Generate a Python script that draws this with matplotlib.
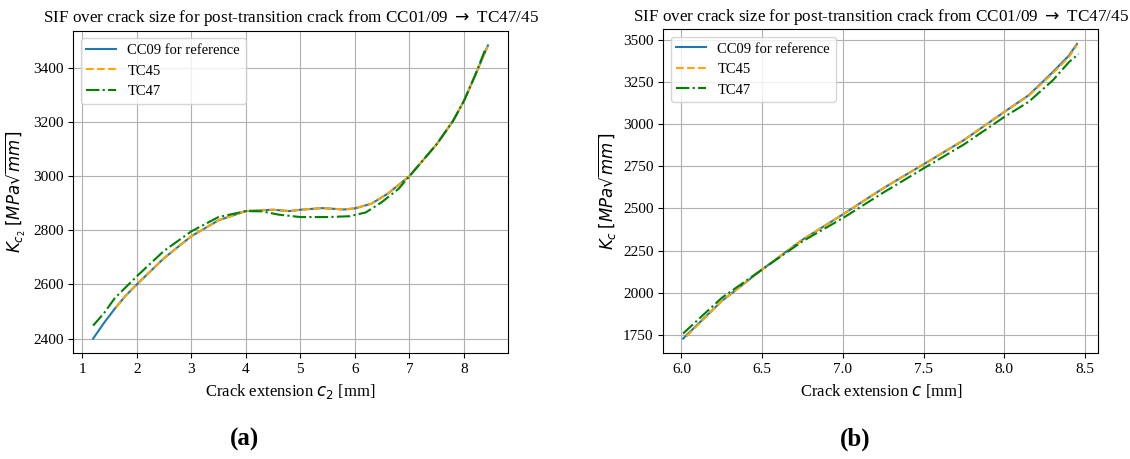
import matplotlib.pyplot as plt

plt.rcParams['font.family'] = ['Liberation Serif', 'DejaVu Serif']
plt.rcParams['mathtext.fontset'] = 'dejavusans'

# --- data (a): K_c2 over c2 ---
c2_cc09 = [1.2, 1.4, 1.6, 1.8, 2.0, 2.5, 3.0, 3.5, 4.0, 4.5, 4.8, 5.0, 5.4, 5.8, 6.0, 6.3, 6.6, 7.0, 7.5, 7.8, 8.0, 8.2, 8.44]
k_cc09 = [2400, 2458, 2511, 2559, 2600, 2697, 2778, 2837, 2871, 2876, 2871, 2876, 2882, 2877, 2881, 2898, 2935, 3000, 3118, 3204, 3278, 3370, 3483]

c2_tc45 = [1.62, 1.8, 2.0, 2.5, 3.0, 3.5, 4.0, 4.5, 4.8, 5.0, 5.4, 5.8, 6.0, 6.3, 6.6, 7.0, 7.5, 7.8, 8.0, 8.2, 8.43]
k_tc45 = [2515, 2559, 2600, 2697, 2778, 2837, 2871, 2876, 2871, 2876, 2882, 2877, 2881, 2898, 2935, 3000, 3118, 3204, 3278, 3370, 3478]

c2_tc47 = [1.2, 1.4, 1.6, 2.0, 2.5, 3.0, 3.5, 4.0, 4.3, 4.6, 5.0, 5.5, 5.9, 6.2, 6.5, 6.8, 7.0, 7.5, 7.8, 8.0, 8.2, 8.40]
k_tc47 = [2448, 2494, 2550, 2630, 2724, 2796, 2849, 2871, 2870, 2858, 2849, 2849, 2852, 2866, 2905, 2953, 3000, 3118, 3204, 3278, 3370, 3473]

# --- data (b): K_c over c ---
c_cc09 = [6.01, 6.25, 6.5, 6.75, 7.0, 7.25, 7.5, 7.75, 8.0, 8.15, 8.3, 8.4, 8.45]
kc_cc09 = [1728, 1951, 2138, 2315, 2465, 2620, 2762, 2906, 3073, 3171, 3309, 3407, 3476]

c_tc45 = [6.03, 6.25, 6.5, 6.75, 7.0, 7.25, 7.5, 7.75, 8.0, 8.15, 8.3, 8.4, 8.45]
kc_tc45 = [1740, 1951, 2138, 2315, 2465, 2620, 2762, 2906, 3073, 3168, 3302, 3398, 3470]

c_tc47 = [6.01, 6.25, 6.5, 6.75, 7.0, 7.25, 7.5, 7.75, 8.0, 8.15, 8.3, 8.4, 8.46]
kc_tc47 = [1758, 1970, 2138, 2305, 2443, 2594, 2738, 2880, 3043, 3132, 3260, 3368, 3417]

titel = 'SIF over crack size for post-transition crack from CC01/09 $\\rightarrow$ TC47/45'

fig = plt.figure(figsize=(11.3, 4.59), dpi=100)
ax1 = fig.add_axes([0.0649, 0.2303, 0.3844, 0.7028])
ax2 = fig.add_axes([0.587, 0.2303, 0.385, 0.7060])

# panel (a)
ax1.plot(c2_cc09, k_cc09, color='tab:blue', linestyle='-', label='CC09 for reference')
ax1.plot(c2_tc45, k_tc45, color='orange', linestyle='--', label='TC45')
ax1.plot(c2_tc47, k_tc47, color='green', linestyle='-.', label='TC47')
ax1.set_title(titel, fontsize=12.3)
ax1.set_xlabel('Crack extension $c_2$ [mm]', fontsize=12)
ax1.set_ylabel('$K_{c_2}$ $[MPa\\sqrt{mm}]$', fontsize=12)
ax1.set_yticks([2400, 2600, 2800, 3000, 3200, 3400])
ax1.grid(True)
ax1.legend(loc='upper left', fontsize=10.5)

# panel (b)
ax2.plot(c_cc09, kc_cc09, color='tab:blue', linestyle='-', label='CC09 for reference')
ax2.plot(c_tc45, kc_tc45, color='orange', linestyle='--', label='TC45')
ax2.plot(c_tc47, kc_tc47, color='green', linestyle='-.', label='TC47')
ax2.set_title(titel, fontsize=12.3)
ax2.set_xlabel('Crack extension $c$ [mm]', fontsize=12)
ax2.set_ylabel('$K_c$ $[MPa\\sqrt{mm}]$', fontsize=12)
ax2.set_xticks([6.0, 6.5, 7.0, 7.5, 8.0, 8.5])
ax2.grid(True)
ax2.legend(loc='upper left', fontsize=10.5)

for ax in (ax1, ax2):
    ax.tick_params(labelsize=11)

fig.text(0.2168, 0.03, '(a)', fontsize=18, fontweight='bold', ha='center')
fig.text(0.757, 0.03, '(b)', fontsize=18, fontweight='bold', ha='center')

fig.savefig('out.png', dpi=100)
